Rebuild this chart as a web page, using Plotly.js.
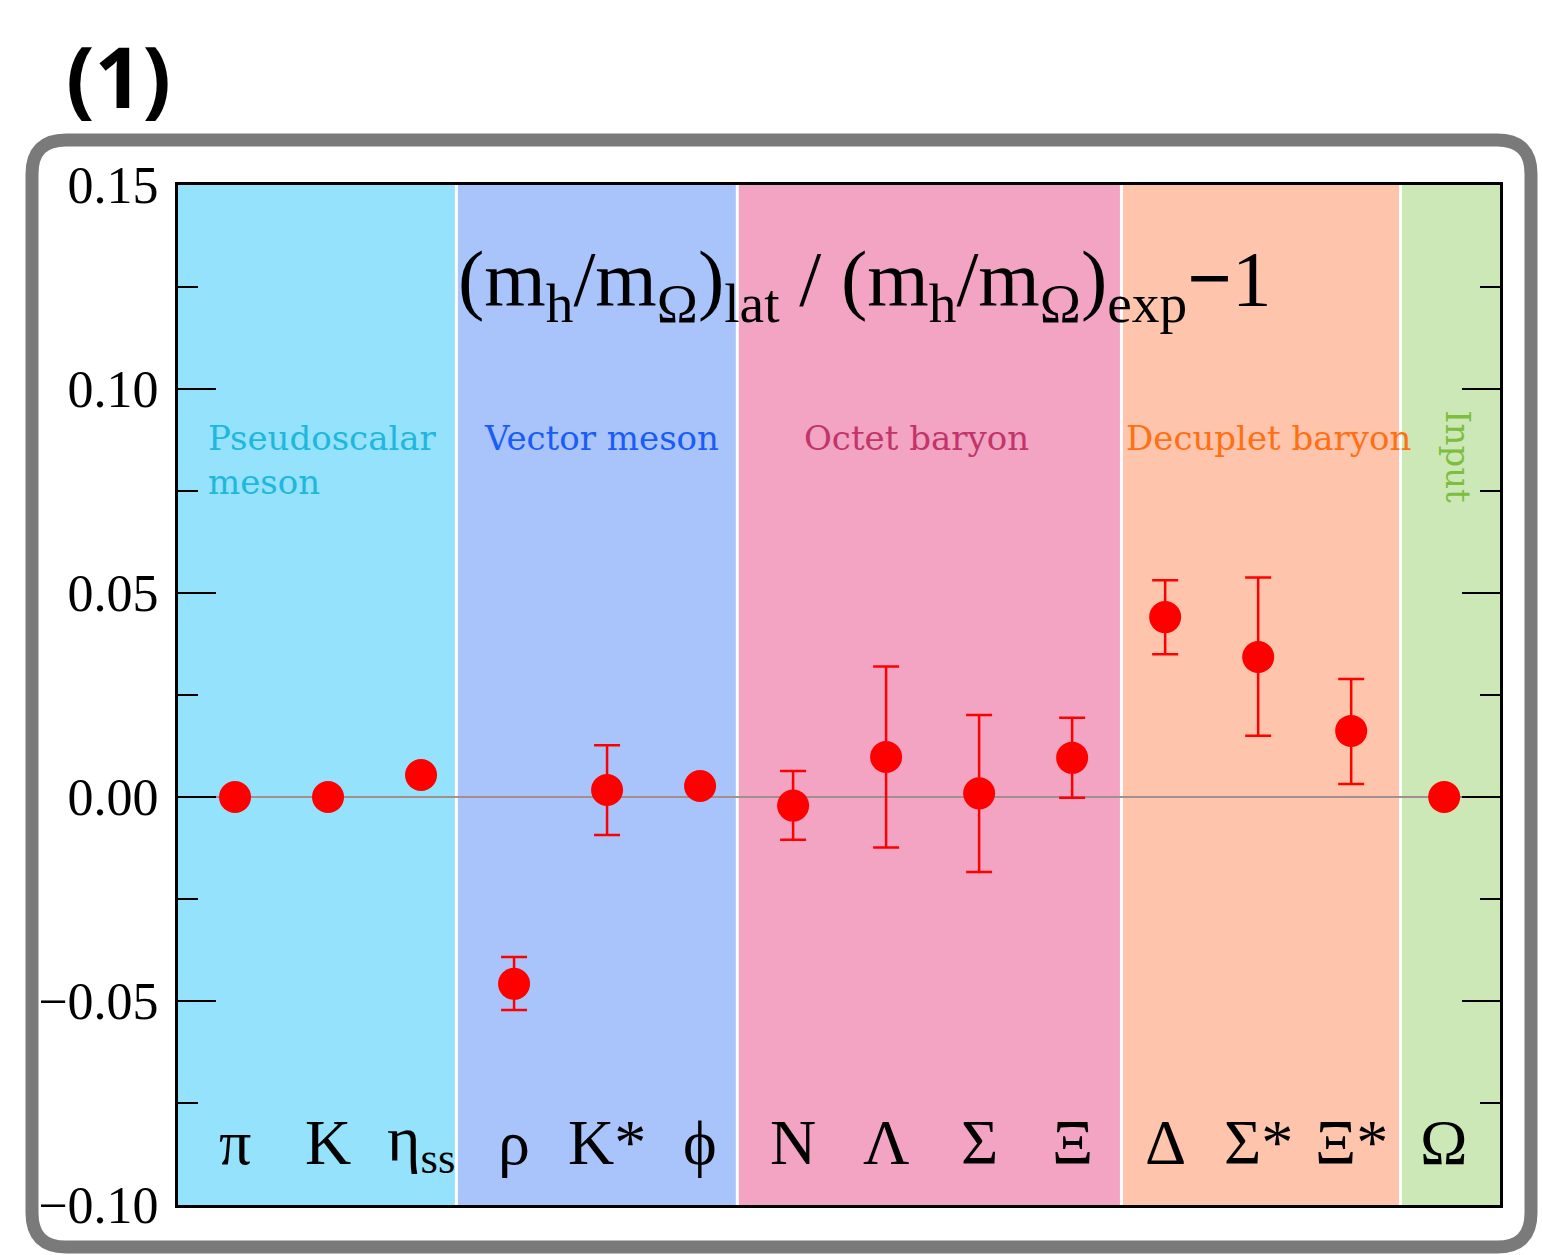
<!DOCTYPE html>
<html>
<head>
<meta charset="utf-8">
<script src="https://cdn.plot.ly/plotly-3.0.1.min.js"></script>
<style>html,body{margin:0;padding:0;background:#fff;}</style>
</head>
<body>
<div id="chart" style="width:1542px;height:1255px;"></div>
<script>
// ---- data ----
const particles = ["π", "K", "η<sub>ss</sub>", "ρ", "K*", "ϕ", "N", "Λ", "Σ", "Ξ", "Δ", "Σ*", "Ξ*", "Ω"];
const positions = [0, 1, 2, 3, 4, 5, 6, 7, 8, 9, 10, 11, 12, 13];
const deviation = [0.0, 0.0, 0.0054, -0.0458, 0.0017, 0.0027, -0.0021, 0.0098, 0.0009, 0.0096, 0.0441, 0.0343, 0.0162, 0.0];
const errPlus  = [0, 0, 0, 0.0066, 0.0110, 0, 0.0085, 0.0222, 0.0192, 0.0098, 0.0090, 0.0195, 0.0127, 0];
const errMinus = [0, 0, 0, 0.0064, 0.0110, 0, 0.0084, 0.0222, 0.0193, 0.0098, 0.0091, 0.0193, 0.0130, 0];
const groupNames = ["Pseudoscalar<br>meson", "Vector meson", "Octet baryon", "Decuplet baryon", "Input"];
const groupEdges = [-0.613, 2.38, 5.4, 9.53, 12.53, 13.6];
const groupFill = ["#94E2FC", "#A8C4FA", "#F2A4C2", "#FEC4AC", "#CCE8B6"];
const groupText = ["#1FB7DC", "#1A5CF8", "#C2346A", "#FF7014", "#7CBE3E"];
const yTicks = [-0.10, -0.05, 0.00, 0.05, 0.10, 0.15];
const yTickText = ["−0.10", "−0.05", "0.00", "0.05", "0.10", "0.15"];

// ---- geometry helpers (pixels -> paper) ----
const L = 178, R = 42, T = 185, B = 50, W = 1542, H = 1255;
const pw = W - L - R, ph = H - T - B;
const px = x => (x - L) / pw;
const py = y => (H - B - y) / ph;

const shapes = [];
for (let i = 0; i < 5; i++) {
  shapes.push({type: "rect", xref: "x", yref: "paper", x0: groupEdges[i], x1: groupEdges[i + 1], y0: 0, y1: 1,
    fillcolor: groupFill[i], line: {width: 0}, layer: "below"});
}
for (let i = 1; i < 5; i++) {
  shapes.push({type: "line", xref: "x", yref: "paper", x0: groupEdges[i], x1: groupEdges[i], y0: 0, y1: 1,
    line: {color: "#ffffff", width: 3}, layer: "below"});
}
shapes.push({type: "line", xref: "paper", yref: "y", x0: 0, x1: 1, y0: 0, y1: 0,
  line: {color: "#A38F90", width: 2}, layer: "below"});

// hand-drawn-ish grey frame (rounded rectangle)
const fx0 = 32, fx1 = 1531, fy0 = 140, fy1 = 1247, r = 34;
const P = (x, y) => px(x) + "," + py(y);
const framePath = "M" + P(fx0 + r, fy0) + " L" + P(fx1 - r, fy0) + " Q" + P(fx1, fy0) + " " + P(fx1, fy0 + r) +
  " L" + P(fx1, fy1 - r) + " Q" + P(fx1, fy1) + " " + P(fx1 - r, fy1) +
  " L" + P(fx0 + r, fy1) + " Q" + P(fx0, fy1) + " " + P(fx0, fy1 - r) +
  " L" + P(fx0, fy0 + r) + " Q" + P(fx0, fy0) + " " + P(fx0 + r, fy0) + " Z";
shapes.push({type: "path", xref: "paper", yref: "paper", path: framePath,
  line: {color: "#7A7A7A", width: 13}, fillcolor: "rgba(0,0,0,0)", layer: "above"});

const annotations = [];
particles.forEach((p, i) => {
  annotations.push({x: positions[i], y: -0.0848, xref: "x", yref: "y", text: p, showarrow: false,
    font: {family: "Liberation Serif, Times New Roman, serif", size: 64, color: "#000"},
    xanchor: "center", yanchor: "middle"});
});
// group labels
const gfont = (c) => ({family: "DejaVu Serif, serif", size: 34, color: c});
annotations.push({x: -0.31, y: 0.0935, xref: "x", yref: "y", text: groupNames[0], showarrow: false, align: "left",
  xanchor: "left", yanchor: "top", font: gfont(groupText[0])});
annotations.push({x: 2.65, y: 0.0935, xref: "x", yref: "y", text: groupNames[1], showarrow: false,
  xanchor: "left", yanchor: "top", font: gfont(groupText[1])});
annotations.push({x: 6.1, y: 0.0935, xref: "x", yref: "y", text: groupNames[2], showarrow: false,
  xanchor: "left", yanchor: "top", font: gfont(groupText[2])});
annotations.push({x: 9.56, y: 0.0935, xref: "x", yref: "y", text: groupNames[3], showarrow: false,
  xanchor: "left", yanchor: "top", font: gfont(groupText[3])});
annotations.push({x: 13.14, y: 0.0835, xref: "x", yref: "y", text: groupNames[4], showarrow: false, textangle: 90,
  xanchor: "center", yanchor: "middle", font: gfont(groupText[4])});
// formula title inside plot
annotations.push({x: 6.77, y: 0.1255, xref: "x", yref: "y", showarrow: false, xanchor: "center", yanchor: "middle",
  text: "(m<sub>h</sub>/m<sub>Ω</sub>)<sub>lat</sub> / (m<sub>h</sub>/m<sub>Ω</sub>)<sub>exp</sub><b>−</b>1",
  font: {family: "Liberation Serif, Times New Roman, serif", size: 79, color: "#000"}});
// panel label
annotations.push({x: px(64), y: py(76), xref: "paper", yref: "paper", text: "<b>(1)</b>", showarrow: false,
  xanchor: "left", yanchor: "middle", font: {family: "Open Sans, Liberation Sans, sans-serif", size: 84, color: "#000"}});

const trace = {
  x: positions, y: deviation, type: "scatter", mode: "markers",
  marker: {color: "#FF0000", size: 32},
  error_y: {type: "data", symmetric: false, array: errPlus, arrayminus: errMinus,
    color: "#FF0000", thickness: 2.5, width: 13},
  cliponaxis: false, hoverinfo: "skip"
};

const layout = {
  width: W, height: H,
  margin: {l: L, r: R, t: T, b: B, pad: 0},
  paper_bgcolor: "#ffffff", plot_bgcolor: "#ffffff",
  showlegend: false,
  xaxis: {range: [groupEdges[0], groupEdges[5]], showticklabels: false, ticks: "", showgrid: false,
    zeroline: false, showline: true, linecolor: "#000", linewidth: 3, mirror: true},
  yaxis: {range: [-0.10, 0.15], tickvals: yTicks, ticktext: yTickText, ticks: "inside", ticklen: 38,
    tickwidth: 2.5, tickcolor: "#000", showgrid: false, zeroline: false,
    showline: true, linecolor: "#000", linewidth: 3, mirror: "allticks",
    ticklabelstandoff: 6,
    minor: {dtick: 0.025, tick0: 0, ticks: "inside", ticklen: 20, tickwidth: 2.5, tickcolor: "#000", showgrid: false},
    tickfont: {family: "Liberation Serif, Times New Roman, serif", size: 52, color: "#000"}},
  shapes: shapes,
  annotations: annotations
};

Plotly.newPlot("chart", [trace], layout, {displayModeBar: false, staticPlot: true});
</script>
</body>
</html>
